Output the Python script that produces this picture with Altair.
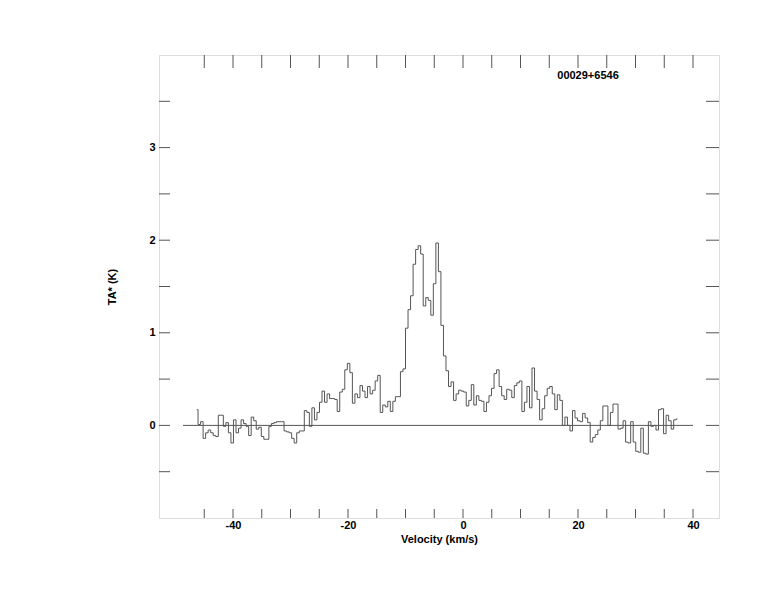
import altair as alt
import pandas as pd

# ---- data ----
v_start = -46.3      # velocity of first channel (km/s)
dv = 0.44            # channel width (km/s)

seg_a = [0.17, 0.01, 0.04, -0.14, -0.08, -0.05, -0.08, -0.11, -0.12, 0.11,
         0.11, -0.01, 0.03, -0.08, -0.19, 0.06, -0.08, -0.03, 0.06, 0.02,
         -0.01, -0.11, 0.09, 0.05, -0.04, -0.02, -0.12, -0.15, -0.15, -0.01,
         0.02, 0.03, 0.04, 0.04, 0.04, -0.06, -0.07, -0.08, -0.14, -0.19,
         -0.08, -0.06, -0.06, 0.16, 0.14, -0.01, 0.19, 0.06, 0.14, 0.25]
seg_b = [0.37, 0.25, 0.34, 0.29, 0.29, 0.28, 0.15, 0.36, 0.39, 0.60,
         0.67, 0.57, 0.24, 0.34, 0.30, 0.43, 0.37, 0.30, 0.42, 0.34,
         0.38, 0.48, 0.54, 0.14, 0.22, 0.20, 0.26, 0.15, 0.26, 0.31,
         0.31, 0.58, 0.61, 1.05, 1.25, 1.40, 1.74, 1.90, 1.94, 1.85,
         1.29, 1.38, 1.35, 1.19, 1.53, 1.97, 1.66, 1.08, 0.75, 0.59,
         0.42, 0.47, 0.27, 0.34, 0.38]
seg_c = [0.37, 0.36, 0.21, 0.27, 0.44, 0.22, 0.32, 0.27, 0.26, 0.15,
         0.25, 0.32, 0.40, 0.56, 0.60, 0.42, 0.32, 0.28, 0.39, 0.38,
         0.30, 0.43, 0.46, 0.48, 0.15, 0.25, 0.42, 0.19, 0.62, 0.37,
         0.28, 0.06, 0.18, 0.32, 0.40, 0.42, 0.34, 0.17, 0.33, 0.27,
         0.00, 0.09, 0.00, -0.06, 0.16, 0.08, 0.05]
seg_d = [0.04, 0.13, 0.08, 0.03, -0.18, -0.13, -0.10, -0.05, 0.05, 0.21,
         0.21, 0.00, 0.14, 0.23, 0.23, -0.04, -0.03, 0.05, -0.18, -0.19,
         0.04, -0.18, -0.28, -0.29, -0.03, -0.30, -0.31, 0.04, -0.01, 0.00,
         -0.05, 0.17, 0.18, -0.09, 0.11, 0.05, -0.04, 0.06, 0.07]

ta_values = seg_a + seg_b + seg_c + seg_d
velocities = [round(v_start + i * dv, 3) for i in range(len(ta_values))]

baseline_range = [-48.7, 40.0]
x_domain = [-52.87, 44.52]
y_domain = [-1.0, 4.0]
x_tick_values = [-45, -40, -35, -30, -25, -20, -15, -10, -5, 0, 5, 10, 15, 20, 25, 30, 35, 40]
x_label_values = [-40, -20, 0, 20, 40]
y_tick_values = [-0.5, 0, 0.5, 1, 1.5, 2, 2.5, 3, 3.5]
y_label_values = [0, 1, 2, 3]
source_name = "00029+6546"

W, H = 560, 463
FONT = "Liberation Sans"
LINE = "#555555"

spec_df = pd.DataFrame({"v": velocities, "ta": ta_values})
base_df = pd.DataFrame({"v": [baseline_range[0]], "v2": [baseline_range[1]], "ta": [0.0]})
xt_df = pd.DataFrame({"v": x_tick_values})
yt_df = pd.DataFrame({"ta": y_tick_values})
name_df = pd.DataFrame({"label": [source_name]})

xs = alt.Scale(domain=x_domain, nice=False, zero=False)
ys = alt.Scale(domain=y_domain, nice=False, zero=False)

x_axis = alt.Axis(
    values=x_label_values, title="Velocity (km/s)", ticks=False, domain=False,
    grid=False, labelPadding=1, labelFont=FONT, labelFontSize=11,
    labelFontWeight="bold", labelColor="black", titleFont=FONT,
    titleFontSize=11, titleFontWeight="bold", titleColor="black",
    titleY=21, titleBaseline="middle", labelFlush=False,
    labelExpr="'' + datum.value")
y_axis = alt.Axis(
    values=y_label_values, title="TA* (K)", ticks=False, domain=False,
    grid=False, labelPadding=4, labelFont=FONT, labelFontSize=11,
    labelFontWeight="bold", labelColor="black", titleFont=FONT,
    titleFontSize=11, titleFontWeight="bold", titleColor="black",
    titleX=-47, titleY=H / 2, titleAngle=270, titleAlign="center",
    titleBaseline="middle", labelFlush=False,
    labelExpr="'' + datum.value")

X = alt.X("v:Q", scale=xs, axis=x_axis)
Y = alt.Y("ta:Q", scale=ys, axis=y_axis)

spectrum = alt.Chart(spec_df).mark_line(
    interpolate="step", color=LINE, strokeWidth=1
).encode(x=X, y=Y)

baseline = alt.Chart(base_df).mark_rule(color=LINE, strokeWidth=1).encode(
    x=X, x2="v2:Q", y=Y)

top_ticks = alt.Chart(xt_df).mark_rule(color=LINE, strokeWidth=1).encode(
    x=X, y=alt.value(0), y2=alt.value(13))
bottom_ticks = alt.Chart(xt_df).mark_rule(color=LINE, strokeWidth=1).encode(
    x=X, y=alt.value(H), y2=alt.value(H - 9))
left_ticks = alt.Chart(yt_df).mark_rule(color=LINE, strokeWidth=1).encode(
    y=Y, x=alt.value(0), x2=alt.value(11))
right_ticks = alt.Chart(yt_df).mark_rule(color=LINE, strokeWidth=1).encode(
    y=Y, x=alt.value(W), x2=alt.value(W - 13))

name = alt.Chart(name_df).mark_text(
    font=FONT, fontSize=11, fontWeight="bold", color="black",
    align="center", baseline="middle"
).encode(text="label:N", x=alt.value(429), y=alt.value(21))

chart = alt.layer(
    spectrum, baseline, top_ticks, bottom_ticks, left_ticks, right_ticks, name
).properties(
    width=W, height=H,
    autosize=alt.AutoSizeParams(type="none"),
    padding={"left": 151, "top": 47, "right": 47, "bottom": 86},
).configure_view(stroke="#555555", strokeWidth=1).configure(background="white")

chart.save("out.html", embed_options={"renderer": "svg", "actions": False})
